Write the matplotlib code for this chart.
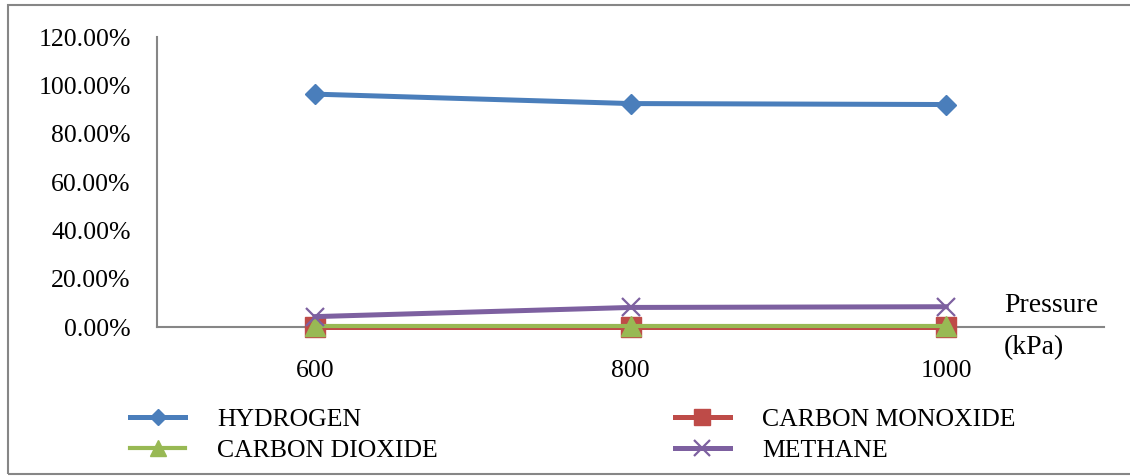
import numpy as np
import matplotlib.pyplot as plt
from matplotlib.patches import Rectangle
from matplotlib.ticker import FuncFormatter

plt.rcParams['font.family'] = ['Liberation Serif', 'DejaVu Serif']

# Datos (porcentajes)
presion = ['600', '800', '1000']
hidrogeno = [96.4, 92.5, 92.1]
monoxido = [0.0, 0.0, 0.0]
dioxido = [0.4, 0.4, 0.4]
metano = [4.3, 8.1, 8.4]

fs = 18.5

fig = plt.figure(figsize=(11.3, 4.76), dpi=100)
ax = fig.add_axes([0.139, 0.313, 0.838, 0.609])

x = np.arange(len(presion))
lw = 3.6
ax.plot(x, hidrogeno, color='#4A7EBB', lw=lw, marker='D', ms=9.7, label='HYDROGEN', zorder=3, clip_on=False)
ax.plot(x, monoxido, color='#BE4B48', lw=lw, marker='s', ms=14, label='CARBON MONOXIDE', zorder=3, clip_on=False)
ax.plot(x, dioxido, color='#98B954', lw=3, marker='^', ms=13.7, label='CARBON DIOXIDE', zorder=4, clip_on=False)
ax.plot(x, metano, color='#7D60A0', lw=lw, marker='x', ms=13.5, mew=1.6, label='METHANE', zorder=5, clip_on=False)

ax.set_xlim(-0.5, 2.5)
ax.set_ylim(0, 120)
ax.set_yticks(np.arange(0, 121, 20))
ax.yaxis.set_major_formatter(FuncFormatter(lambda v, p: '{0:.2f}%'.format(v)))
ax.set_xticks(x)
ax.set_xticklabels(presion)
ax.tick_params(axis='both', length=0, labelsize=fs)
ax.tick_params(axis='y', pad=19)
ax.tick_params(axis='x', pad=24)

for s in ['top', 'right']:
    ax.spines[s].set_visible(False)
for s in ['left', 'bottom']:
    ax.spines[s].set_color('#868686')
    ax.spines[s].set_linewidth(1.5)
    ax.spines[s].set_zorder(2)

fig.text(1004 / 1130, 1 - 306 / 476, 'Pressure', fontsize=20, va='center', ha='left')
fig.text(1004 / 1130, 1 - 348 / 476, '(kPa)', fontsize=20, va='center', ha='left')

# Leyenda en dos columnas
h, l = ax.get_legend_handles_labels()
orden = [0, 2, 1, 3]
fig.legend([h[i] for i in orden], [l[i] for i in orden], ncol=2, frameon=False,
           fontsize=fs, loc='upper left', bbox_to_anchor=(0.106, 0.165),
           handlelength=2.15, handletextpad=1.25, columnspacing=9.2,
           labelspacing=0.32, borderaxespad=0, markerscale=0.85)

# Marco exterior
fig.patches.append(Rectangle((8 / 1130, 2 / 476), 1.1, 469 / 476, transform=fig.transFigure,
                             fill=False, edgecolor='#868686', lw=1.5))

plt.savefig('out.png', dpi=100)
